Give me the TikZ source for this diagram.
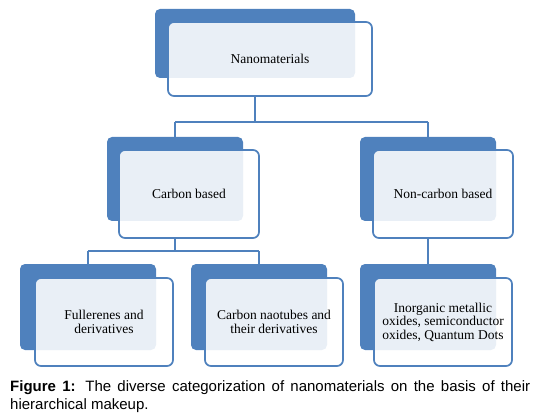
\documentclass[tikz,border=0pt]{standalone}
\usepackage{fontspec}
\setmainfont{Liberation Serif}
\newfontfamily\capfont{Liberation Sans}
\definecolor{nblue}{RGB}{79,129,189}
\begin{document}
\begin{tikzpicture}[x=1pt,y=-1pt,
  backbox/.style={fill=nblue, rounded corners=5pt, inner sep=0pt},
  frontbox/.style={draw=nblue, line width=1.7pt, fill=white, fill opacity=0.88, text opacity=1, draw opacity=1,
    rounded corners=6pt, inner sep=0pt, align=center,
    font=\fontsize{13.5}{13.5}\selectfont},
  conn/.style={draw=nblue, line width=1.6pt}]
\useasboundingbox (0,0) rectangle (536,417);
% back boxes
\node[backbox, minimum width=200pt, minimum height=69pt] (topb) at (255,43.5) {};
\node[backbox, minimum width=136pt, minimum height=84pt] (carb) at (175,179) {};
\node[backbox, minimum width=136pt, minimum height=84pt] (noncb) at (428,179) {};
\node[backbox, minimum width=136pt, minimum height=86pt] (fulb) at (88,307) {};
\node[backbox, minimum width=136pt, minimum height=86pt] (cntb) at (259,307) {};
\node[backbox, minimum width=136pt, minimum height=86pt] (inob) at (428,307) {};
% connectors
\draw[conn] (topb.center |- 0,96) -- (topb.center |- 0,122) coordinate (bus1);
\draw[conn] (carb.north |- bus1) -- (noncb.north |- bus1);
\draw[conn] (carb.north |- bus1) -- (carb.north);
\draw[conn] (noncb.north |- bus1) -- (noncb.north);
\draw[conn] (carb.center |- 0,238) -- (carb.center |- 0,251) coordinate (bus2);
\draw[conn] (fulb.north |- bus2) -- (cntb.north |- bus2);
\draw[conn] (fulb.north |- bus2) -- (fulb.north);
\draw[conn] (cntb.north |- bus2) -- (cntb.north);
\draw[conn] (noncb.center |- 0,238) -- (inob.north);
% front boxes
\node[frontbox, minimum width=204pt, minimum height=74pt] (topf) at (270,59) {Nanomaterials};
\node[frontbox, minimum width=140pt, minimum height=88pt] (carf) at (189,194) {Carbon based};
\node[frontbox, minimum width=140pt, minimum height=88pt] (noncf) at (443,194) {Non-carbon based};
\node[frontbox, minimum width=138pt, minimum height=88pt] (fulf) at (104,322) {Fullerenes and\\derivatives};
\node[frontbox, minimum width=138pt, minimum height=88pt] (cntf) at (274,322) {Carbon naotubes and\\their derivatives};
\node[frontbox, minimum width=138pt, minimum height=88pt] (inof) at (443,322) {Inorganic metallic\\oxides, semiconductor\\oxides, Quantum Dots};
% caption
\node[anchor=base west, inner sep=0pt, text width=520pt, align=justify,
  font=\capfont\fontsize{15}{18}\selectfont] (cap) at (10,391)
  {\textbf{Figure 1:} The diverse categorization of nanomaterials on the basis of their hierarchical makeup.};
\end{tikzpicture}
\end{document}
